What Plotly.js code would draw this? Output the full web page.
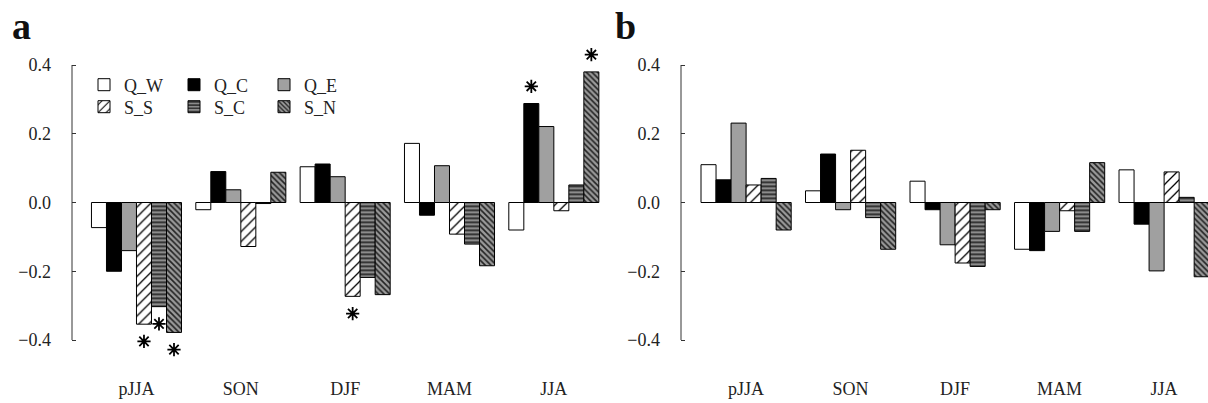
<!DOCTYPE html>
<html>
<head>
<meta charset="utf-8">
<script src="https://cdn.plot.ly/plotly-3.0.1.min.js"></script>
<style>html,body{margin:0;padding:0;background:#fff;}#chart{width:1208px;height:403px;}</style>
</head>
<body>
<div id="chart"></div>
<script>
// ---- data ----
const categories = ['pJJA', 'SON', 'DJF', 'MAM', 'JJA'];
const seriesNames = ['Q_W', 'Q_C', 'Q_E', 'S_S', 'S_C', 'S_N'];

// panel a
const a_QW = [-0.073, -0.021, 0.104, 0.172, -0.080];
const a_QC = [-0.200, 0.090, 0.112, -0.037, 0.288];
const a_QE = [-0.140, 0.037, 0.075, 0.107, 0.221];
const a_SS = [-0.354, -0.128, -0.273, -0.092, -0.024];
const a_SC = [-0.303, -0.003, -0.218, -0.121, 0.051];
const a_SN = [-0.378, 0.088, -0.268, -0.184, 0.380];

// panel b
const b_QW = [0.110, 0.034, 0.062, -0.136, 0.095];
const b_QC = [0.066, 0.141, -0.021, -0.140, -0.063];
const b_QE = [0.231, -0.021, -0.123, -0.084, -0.199];
const b_SS = [0.051, 0.152, -0.176, -0.024, 0.089];
const b_SC = [0.070, -0.044, -0.186, -0.084, 0.015];
const b_SN = [-0.080, -0.136, -0.021, 0.116, -0.216];

// significant correlations in panel a: [series, category]
const a_signif = [['S_S', 'pJJA'], ['S_C', 'pJJA'], ['S_N', 'pJJA'], ['S_S', 'DJF'], ['Q_C', 'JJA'], ['S_N', 'JJA']];

const yTicks = [-0.4, -0.2, 0.0, 0.2, 0.4];

// ---- styles ----
const GAP = 0.137;
const FONT = 'Liberation Serif, Times New Roman, serif';
const styles = {
  Q_W: {color: '#ffffff'},
  Q_C: {color: '#000000'},
  Q_E: {color: '#a0a0a0'},
  S_S: {color: '#ffffff', pattern: {shape: '/', bgcolor: '#ffffff', fgcolor: '#000000', size: 7, solidity: 0.18}},
  S_C: {color: '#8c8c8c', pattern: {shape: '-', bgcolor: '#8c8c8c', fgcolor: '#111111', size: 4, solidity: 0.35}},
  S_N: {color: '#8c8c8c', pattern: {shape: '\\', bgcolor: '#9a9a9a', fgcolor: '#222222', size: 4, solidity: 0.4}}
};

const panelA = {Q_W: a_QW, Q_C: a_QC, Q_E: a_QE, S_S: a_SS, S_C: a_SC, S_N: a_SN};
const panelB = {Q_W: b_QW, Q_C: b_QC, Q_E: b_QE, S_S: b_SS, S_C: b_SC, S_N: b_SN};
const idx = categories.map((c, i) => i);

const traces = [];
function addPanel(data, xa, ya, showLegend) {
  seriesNames.forEach(name => {
    const st = styles[name];
    const marker = {color: st.color, line: {color: '#000', width: 1}};
    if (st.pattern) marker.pattern = Object.assign({fillmode: 'replace'}, st.pattern);
    traces.push({
      type: 'bar', name: name, x: idx, y: data[name],
      xaxis: xa, yaxis: ya, marker: marker,
      showlegend: showLegend,
      legend: name.startsWith('Q') ? 'legend' : 'legend2',
      hoverinfo: 'skip'
    });
  });
}
addPanel(panelA, 'x', 'y', true);
addPanel(panelB, 'x2', 'y2', false);

// asterisks placed relative to bar positions
const nS = seriesNames.length;
const bw = (1 - GAP) / nS;
const ax = [], ay = [];
a_signif.forEach(([s, c]) => {
  const si = seriesNames.indexOf(s), ci = categories.indexOf(c);
  const v = panelA[s][ci];
  ax.push(ci - (1 - GAP) / 2 + bw * (si + 0.5));
  ay.push(v + (v >= 0 ? 0.05 : -0.05));
});
traces.push({
  type: 'scatter', mode: 'markers', x: ax, y: ay, xaxis: 'x', yaxis: 'y',
  marker: {symbol: 'asterisk-open', size: 11, color: '#000', line: {color: '#000', width: 1.8}},
  showlegend: false, hoverinfo: 'skip'
});

const W = 1208, H = 403;
// y: -0.4 -> 340px, 0.4 -> 65px ; range extended to +-0.46 so asterisks fit
const pxPerUnit = (340 - 65) / 0.8;
const YR = 0.46;
const yTop = 65 - (YR - 0.4) * pxPerUnit, yBot = 340 + (YR - 0.4) * pxPerUnit;
const yAxisBase = {
  range: [-YR, YR], tickvals: yTicks, tickformat: '.1f',
  showline: false,
  ticks: 'inside', ticklen: 4, tickcolor: '#333',
  showgrid: false, zeroline: false,
  tickfont: {family: FONT, size: 18, color: '#222'},
  ticklabelstandoff: 20,
  domain: [1 - yBot / H, 1 - yTop / H]
};
const xAxisBase = {
  tickvals: idx, ticktext: categories,
  showline: false, showgrid: false, zeroline: false, ticks: '',
  tickfont: {family: FONT, size: 18, color: '#222'},
  ticklabelstandoff: 15
};

const legendBase = {
  orientation: 'h', x: 84 / W, xanchor: 'left', yanchor: 'middle',
  bgcolor: 'rgba(0,0,0,0)', font: {family: FONT, size: 18, color: '#222'},
  entrywidth: 45, entrywidthmode: 'pixels', traceorder: 'normal', itemclick: false
};

const layout = {
  width: W, height: H,
  margin: {l: 0, r: 0, t: 0, b: 0},
  paper_bgcolor: '#fff', plot_bgcolor: '#fff',
  barmode: 'group', bargap: GAP, bargroupgap: 0,
  font: {family: FONT, color: '#222'},
  xaxis: Object.assign({}, xAxisBase, {domain: [72 / W, 606 / W], range: [-0.618, 4.5], anchor: 'y'}),
  yaxis: Object.assign({}, yAxisBase, {anchor: 'x'}),
  xaxis2: Object.assign({}, xAxisBase, {domain: [681 / W, 1], range: [-0.623, 4.42], anchor: 'y2'}),
  yaxis2: Object.assign({}, yAxisBase, {anchor: 'x2'}),
  legend: Object.assign({}, legendBase, {y: 1 - 85 / H}),
  legend2: Object.assign({}, legendBase, {y: 1 - 107 / H}),
  shapes: [
    {type: 'line', xref: 'x domain', yref: 'y', x0: 0, x1: 0, y0: -0.4, y1: 0.4, line: {color: '#333', width: 1}},
    {type: 'line', xref: 'x2 domain', yref: 'y2', x0: 0, x1: 0, y0: -0.4, y1: 0.4, line: {color: '#333', width: 1}}
  ],
  annotations: [
    {text: '<b>a</b>', xref: 'paper', yref: 'paper', x: 10 / W, y: 1 - 3 / H, xanchor: 'left', yanchor: 'top',
     showarrow: false, font: {family: FONT, size: 38, color: '#111'}},
    {text: '<b>b</b>', xref: 'paper', yref: 'paper', x: 613 / W, y: 1 - 3 / H, xanchor: 'left', yanchor: 'top',
     showarrow: false, font: {family: FONT, size: 38, color: '#111'}}
  ]
};

Plotly.newPlot('chart', traces, layout, {displayModeBar: false, staticPlot: true});
</script>
</body>
</html>
